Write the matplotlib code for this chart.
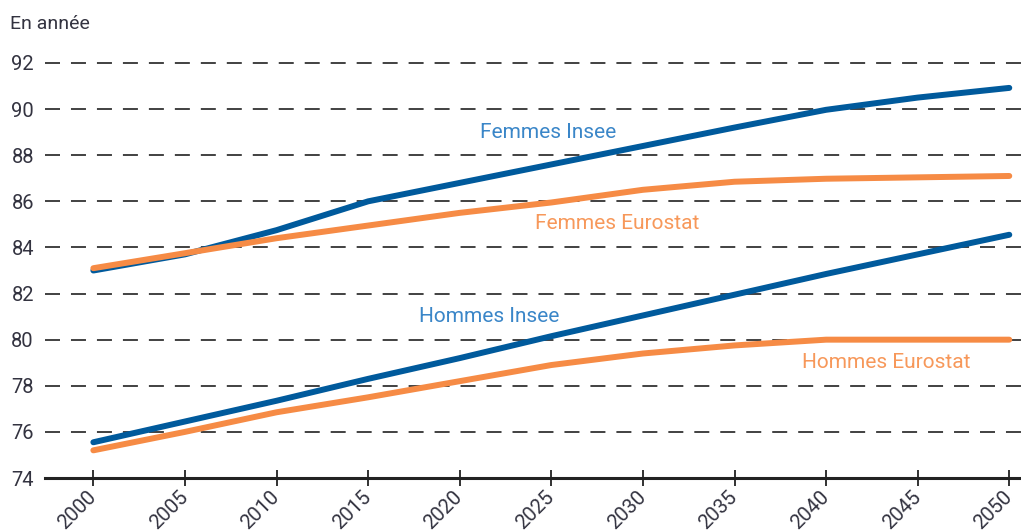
"""
Espérance de vie à la naissance : projections Insee vs Eurostat (2000-2050)
"""
import matplotlib
matplotlib.use("Agg")
import matplotlib.pyplot as plt

# données
years = [2000, 2005, 2010, 2015, 2020, 2025, 2030, 2035, 2040, 2045, 2050]
femmes_insee = [83.0, 83.7, 84.75, 86.0, 86.8, 87.6, 88.4, 89.2, 89.97, 90.5, 90.92]
femmes_eurostat = [83.1, 83.75, 84.4, 84.95, 85.5, 85.95, 86.5, 86.85, 86.98, 87.04, 87.1]
hommes_insee = [75.55, 76.45, 77.35, 78.3, 79.2, 80.15, 81.05, 81.95, 82.85, 83.7, 84.55]
hommes_eurostat = [75.2, 76.0, 76.85, 77.5, 78.2, 78.9, 79.4, 79.75, 80.0, 80.0, 80.0]

yticks = list(range(74, 93, 2))
xticks = list(range(2000, 2051, 5))

BLUE = "#005a9c"
ORANGE = "#f68b45"
BLUE_TXT = "#3a86c8"
ORANGE_TXT = "#f7985a"
TXT = "#333340"

plt.rcParams["font.family"] = ["Roboto", "DejaVu Sans"]
plt.rcParams["lines.scale_dashes"] = False

fig = plt.figure(figsize=(10.21, 5.32), dpi=100)
ax = fig.add_axes([45 / 1021, 1 - 478 / 532, 1 - 45 / 1021, (478 - 63) / 532])

# grille pointillée horizontale
for y in yticks[1:]:
    ax.axhline(y, color="#333333", lw=1.3, ls=(0, (10.8, 7.9)), zorder=1, clip_on=False)

ax.plot(years, femmes_insee, color=BLUE, lw=4.3, solid_capstyle="round", zorder=3)
ax.plot(years, femmes_eurostat, color=ORANGE, lw=4.3, solid_capstyle="round", zorder=3)
ax.plot(years, hommes_insee, color=BLUE, lw=4.3, solid_capstyle="round", zorder=3)
ax.plot(years, hommes_eurostat, color=ORANGE, lw=4.3, solid_capstyle="round", zorder=3)

ax.set_xlim(1997.36, 2050.64)
ax.set_ylim(74, 92)

for side in ["top", "right", "left"]:
    ax.spines[side].set_visible(False)
ax.spines["bottom"].set_linewidth(2.2)
ax.spines["bottom"].set_color("#222222")

ax.set_yticks(yticks)
ax.set_yticklabels([str(v) for v in yticks], fontsize=14.5, color=TXT)
ax.tick_params(axis="y", length=0, pad=8)

ax.set_xticks(xticks)
ax.set_xticklabels([str(v) for v in xticks], fontsize=14.5, color=TXT,
                   rotation=45, ha="right", va="center", rotation_mode="anchor")
ax.tick_params(axis="x", direction="inout", length=11, width=1.3, color="#222222", pad=6)

# étiquettes des courbes
lab = dict(fontsize=15, ha="center", va="center")
ax.text(2024.8, 89.0, "Femmes Insee", color=BLUE_TXT, **lab)
ax.text(2028.6, 85.05, "Femmes Eurostat", color=ORANGE_TXT, **lab)
ax.text(2021.6, 81.0, "Hommes Insee", color=BLUE_TXT, **lab)
ax.text(2043.3, 79.0, "Hommes Eurostat", color=ORANGE_TXT, **lab)

fig.text(10 / 1021, 1 - 24 / 532, "En année", fontsize=14, color=TXT, ha="left", va="center")

fig.savefig("out.png", dpi=100)
